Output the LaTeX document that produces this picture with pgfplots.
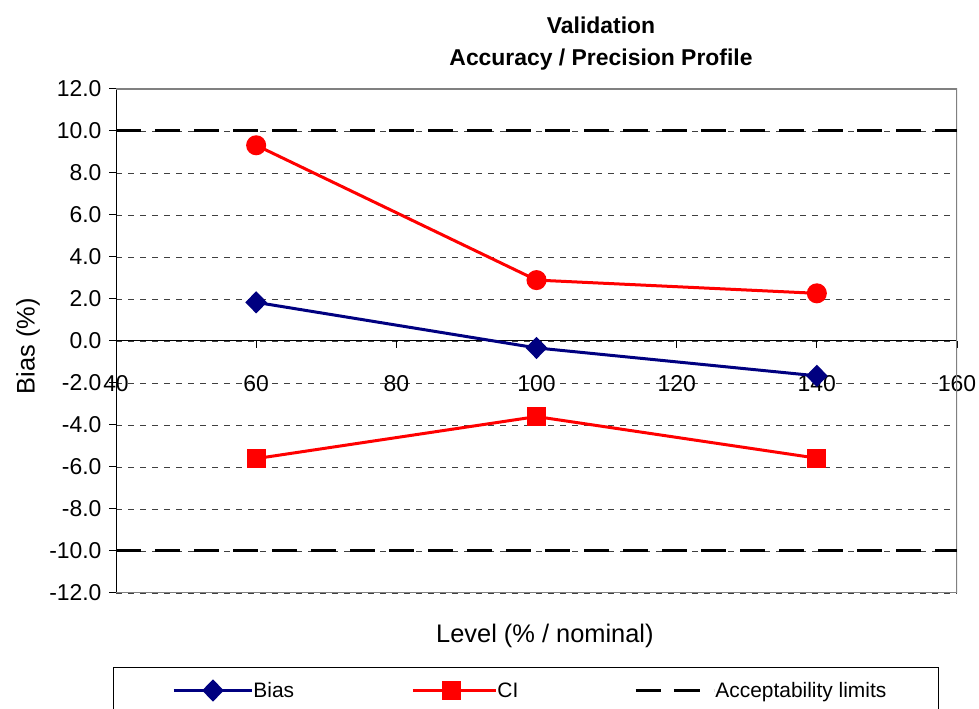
\documentclass[border=0pt]{standalone}
\usepackage{fontspec}
\setmainfont{Liberation Sans}
\usepackage{pgfplots}
\pgfplotsset{compat=1.18}
\definecolor{navyc}{HTML}{000080}
\definecolor{redc}{HTML}{FF0000}
\begin{document}
\begin{tikzpicture}[x=1bp,y=1bp]
\useasboundingbox (0,0) rectangle (979,709);
\begin{axis}[
  at={(116bp,116bp)}, anchor=south west,
  scale only axis, width=841bp, height=504bp,
  xmin=40, xmax=160, ymin=-12, ymax=12,
  xtick={40,60,...,160}, ytick={-12,-10,...,12},
  axis x line=middle, axis y line=left,
  axis line style={-, black, line width=1bp},
  hide obscured x ticks=false, hide obscured y ticks=false,
  tick style={black, line width=1bp},
  major tick length=7bp,
  tick align=outside,
  ymajorgrids,
  grid style={black!75, line width=0.8bp, dash pattern=on 6bp off 6bp},
  /pgf/number format/assume math mode=true,
  yticklabel style={/pgf/number format/fixed, /pgf/number format/fixed zerofill, /pgf/number format/precision=1, xshift=-4bp},
  xticklabel style={yshift=-24bp},
  tick label style={font=\fontsize{23}{26}\selectfont},
  title={Validation\\Accuracy / Precision Profile},
  title style={at={(axis description cs:0.5767,1.079)}, anchor=center, align=center,
    font=\bfseries\fontsize{23}{32}\selectfont},
  xlabel={Level (\% / nominal)},
  ylabel={Bias (\%)},
  every axis x label/.style={at={(axis description cs:0.510,-0.085)}, anchor=center,
    font=\fontsize{25.5}{28}\selectfont},
  every axis y label/.style={at={(axis description cs:-0.1046,0.49)}, anchor=center, rotate=90,
    font=\fontsize{25.5}{28}\selectfont},
  legend columns=3,
  legend style={at={(axis description cs:-0.0036,-0.1468)}, anchor=north west,
    draw=black, line width=1bp, inner xsep=59bp, inner ysep=14bp,
    font=\fontsize{21}{24}\selectfont,
    nodes={inner sep=0pt, anchor=west},
    /tikz/column sep=0pt},
]
\draw[black!50, line width=1.2bp] (rel axis cs:0,1) -- (rel axis cs:1,1) -- (rel axis cs:1,0) -- (rel axis cs:0,0);
% Bias
\addplot[navyc, line width=3bp, mark=diamond*, mark size=9bp, mark options={solid, fill=navyc, xscale=1.3},
  legend image code/.code={\draw[mark repeat=2, mark phase=2] plot coordinates {(0bp,0bp) (39bp,0bp) (78bp,0bp)}; \path (0bp,0bp) -- (78bp,0bp);}]
  coordinates {(60,1.84) (100,-0.33) (140,-1.66)};
\addlegendentry{\makebox[158bp][l]{Bias}}
% CI lower
\addplot[redc, line width=3bp, mark=square*, mark size=8bp, mark options={solid, fill=redc},
  legend image code/.code={\draw[mark repeat=2, mark phase=2] plot coordinates {(0bp,0bp) (39bp,0bp) (78bp,0bp)}; \path (0bp,0bp) -- (83bp,0bp);}]
  coordinates {(60,-5.60) (100,-3.60) (140,-5.58)};
\addlegendentry{\makebox[137bp][l]{CI}}
% CI upper
\addplot[redc, line width=3bp, mark=*, mark size=8.5bp, mark options={solid, fill=redc}, forget plot]
  coordinates {(60,9.32) (100,2.90) (140,2.27)};
% acceptability limits
\addplot[black, line width=3bp, dash pattern=on 25bp off 14bp,
  legend image code/.code={\draw[black, line width=3bp, dash pattern=on 22bp off 16bp] (0bp,0bp) -- (60bp,0bp); \path (0bp,0bp) -- (78bp,0bp);}]
  coordinates {(40,10) (160,10)};
\addlegendentry{\makebox[164bp][l]{Acceptability limits}}
\addplot[black, line width=3bp, dash pattern=on 25bp off 14bp, forget plot]
  coordinates {(40,-10) (160,-10)};
\end{axis}
\end{tikzpicture}
\end{document}
